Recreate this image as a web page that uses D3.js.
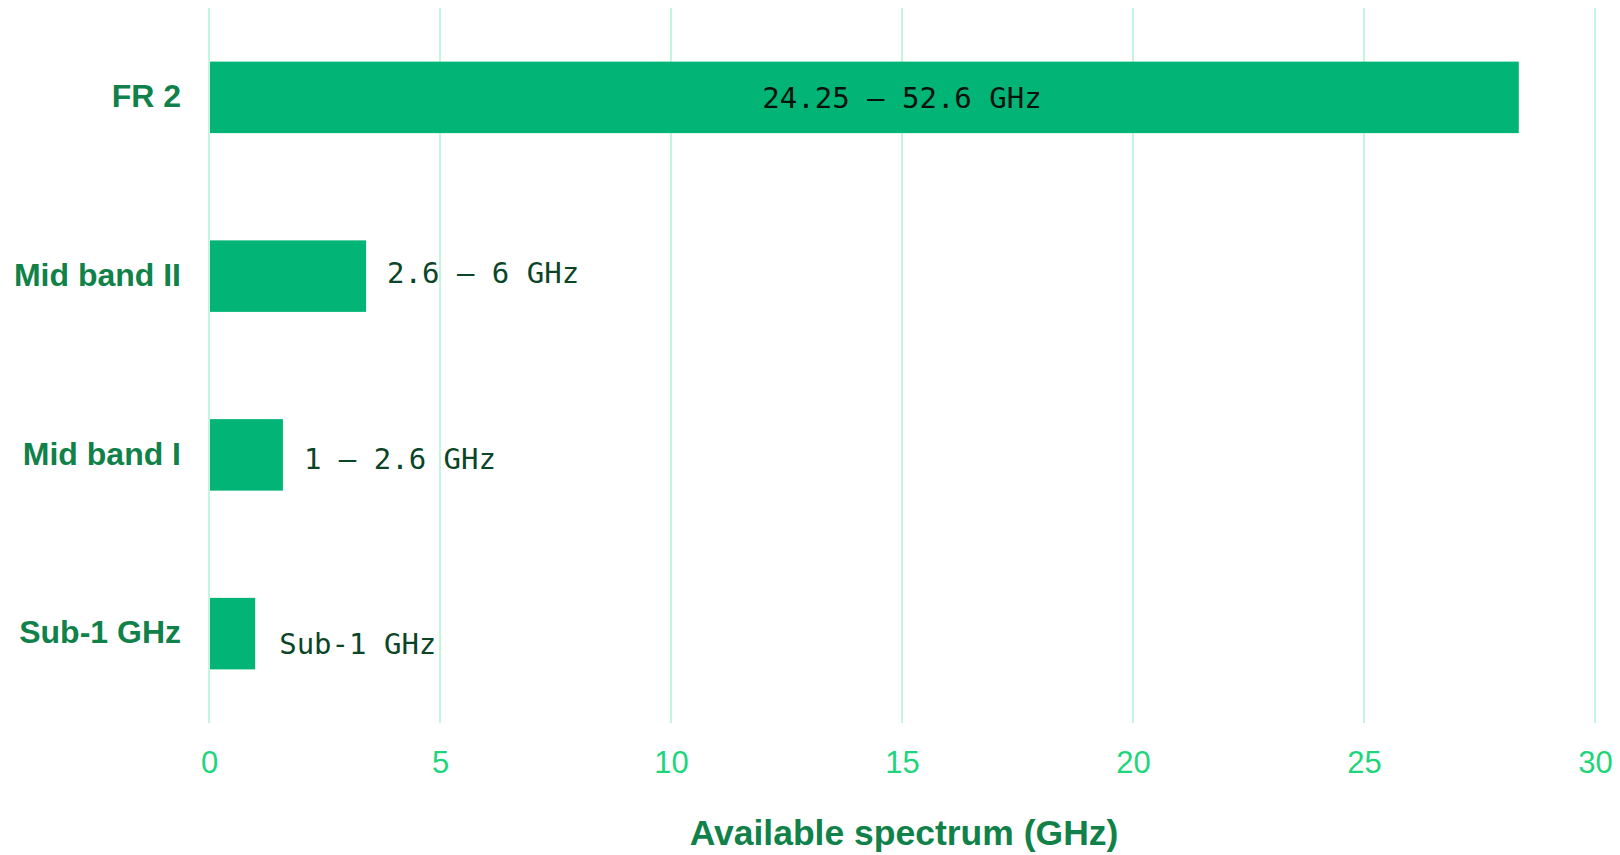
<!DOCTYPE html>
<html>
<head>
<meta charset="utf-8">
<script src="https://cdn.jsdelivr.net/npm/d3@7"></script>
<style>
  html, body { margin: 0; padding: 0; background: #ffffff; }
  svg { display: block; }
</style>
</head>
<body>
<svg id="chart" width="1620" height="855"></svg>
<script>
// Frequency ranges and the width of spectrum each one spans (GHz)
const categories = ["FR 2", "Mid band II", "Mid band I", "Sub-1 GHz"];
const rangeLow   = [24.25, 2.6, 1, 0];
const rangeHigh  = [52.6, 6, 2.6, 1];
const rangeLabels = ["24.25 \u2013 52.6 GHz", "2.6 \u2013 6 GHz", "1 \u2013 2.6 GHz", "Sub-1 GHz"];
const xTicks = [0, 5, 10, 15, 20, 25, 30];
const xTitle = "Available spectrum (GHz)";

const spans = rangeHigh.map((h, i) => +(h - rangeLow[i]).toFixed(2));

const svg = d3.select("#chart");
const margin = { top: 8, right: 25, bottom: 132, left: 209 };
const W = 1620, H = 855;

const x = d3.scaleLinear()
  .domain([0, 30])
  .range([margin.left, W - margin.right]);

const y = d3.scaleBand()
  .domain(categories)
  .range([margin.top, H - margin.bottom])
  .paddingInner(0.6)
  .paddingOuter(0.3);

// vertical gridlines
svg.append("g")
  .selectAll("line")
  .data(xTicks)
  .join("line")
  .attr("x1", d => x(d)).attr("x2", d => x(d))
  .attr("y1", margin.top).attr("y2", H - margin.bottom)
  .attr("stroke", "#c6f5df")
  .attr("stroke-width", 2);

// bottom tick labels
const xAxis = d3.axisBottom(x).tickValues(xTicks).tickSize(0).tickPadding(0);
const gx = svg.append("g")
  .attr("transform", `translate(0, ${H - margin.bottom})`)
  .call(xAxis);
gx.select(".domain").remove();
gx.selectAll("text")
  .attr("dy", null)
  .attr("y", 50)
  .attr("font-family", "'Liberation Sans', Arial, sans-serif")
  .attr("font-size", 31)
  .attr("fill", "#1fd57c");

// bars
svg.append("g")
  .selectAll("rect")
  .data(categories)
  .join("rect")
  .attr("x", x(0) + 1)
  .attr("y", d => y(d))
  .attr("width", (d, i) => x(spans[i]) - x(0) - 1)
  .attr("height", y.bandwidth())
  .attr("fill", "#02b577");

// category labels
svg.append("g")
  .selectAll("text")
  .data(categories)
  .join("text")
  .attr("x", 181)
  .attr("y", d => y(d) + y.bandwidth() / 2 - 1.5)
  .attr("dy", "0.35em")
  .attr("text-anchor", "end")
  .attr("font-family", "'Liberation Sans', Arial, sans-serif")
  .attr("font-weight", "bold")
  .attr("font-size", 32)
  .attr("fill", "#0f8149")
  .text(d => d);

// range labels: the widest bar carries its label inside, the rest sit past the bar end
const labelNudgeX = [0, 0, 0, 3];
const labelNudgeY = [0, -3, 4, 10];
svg.append("g")
  .selectAll("text")
  .data(categories)
  .join("text")
  .attr("x", (d, i) => i === 0 ? x(15) : x(spans[i]) + 21 + labelNudgeX[i])
  .attr("y", (d, i) => y(d) + y.bandwidth() / 2 + labelNudgeY[i])
  .attr("dy", "0.35em")
  .attr("text-anchor", (d, i) => i === 0 ? "middle" : "start")
  .attr("font-family", "'DejaVu Sans Mono', monospace")
  .attr("font-size", 29)
  .attr("fill", (d, i) => i === 0 ? "#06120c" : "#0b4528")
  .text((d, i) => rangeLabels[i]);

// axis title
svg.append("text")
  .attr("x", (x(0) + x(30)) / 2 + 2)
  .attr("y", 845)
  .attr("text-anchor", "middle")
  .attr("font-family", "'Liberation Sans', Arial, sans-serif")
  .attr("font-weight", "bold")
  .attr("font-size", 35.5)
  .attr("fill", "#0f8149")
  .text(xTitle);
</script>
</body>
</html>
